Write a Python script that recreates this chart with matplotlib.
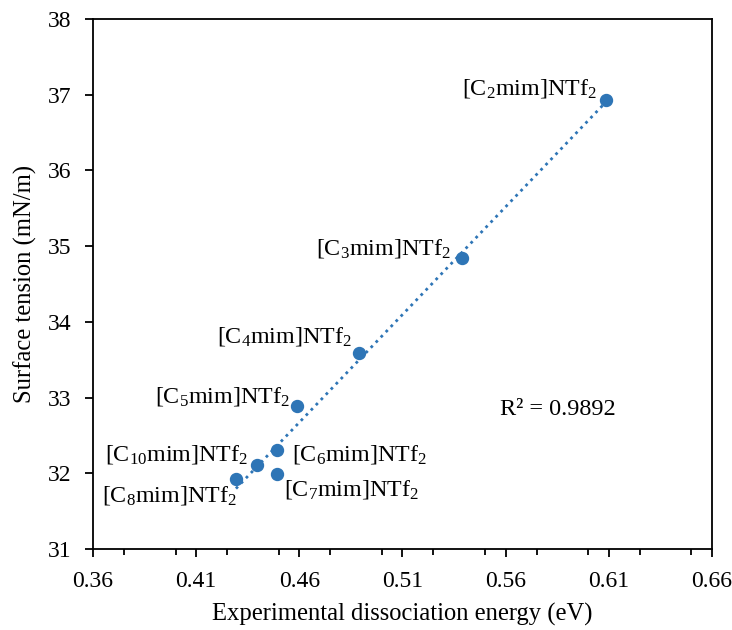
import matplotlib
matplotlib.use('Agg')
import matplotlib.pyplot as plt
import numpy as np
from matplotlib.ticker import MultipleLocator

plt.rcParams['font.family'] = ['Liberation Serif', 'DejaVu Serif']
plt.rcParams['mathtext.default'] = 'regular'

# dissociation energy (eV) vs surface tension (mN/m)
names = ['2', '3', '4', '5', '6', '7', '10', '8']
energy = [0.6087, 0.5389, 0.4890, 0.4589, 0.4492, 0.4492, 0.4395, 0.4293]
tension = [36.93, 34.84, 33.59, 32.89, 32.31, 31.99, 32.11, 31.92]
r2_text = 'R² = 0.9892'

# label offsets in pixels (dx, dy, ha)
offsets = {
    '2': (-9, 12, 'right'),
    '3': (-11, 10, 'right'),
    '4': (-7, 16, 'right'),
    '5': (-7, 9, 'right'),
    '6': (15, -5, 'left'),
    '7': (7, -15, 'left'),
    '10': (-9, 10, 'right'),
    '8': (1, -16, 'right'),
}

blue = '#2E75B6'

fig = plt.figure(figsize=(7.32, 6.3), dpi=100)
ax = fig.add_axes([0.127, 0.1286, 0.8457, 0.8412])

ax.plot(energy, tension, 'o', color=blue, markersize=8.6, zorder=3)

# linear trendline
k, b = np.polyfit(energy, tension, 1)
xs = np.array([min(energy), max(energy)])
ax.plot(xs, k * xs + b, linestyle=(0, (1, 1.6)), color=blue, linewidth=2, zorder=2)

for n, x, y in zip(names, energy, tension):
    dx, dy, ha = offsets[n]
    ax.annotate('[C$_{%s}$mim]NTf$_2$' % n, (x, y), xytext=(dx, dy),
                textcoords='offset pixels', ha=ha, va='center', fontsize=17.3)

ax.text(0.5573, 32.84, r2_text, ha='left', va='center', fontsize=17.5)

ax.set_xlim(0.36, 0.66)
ax.set_ylim(31, 38)
ax.set_xticks(np.arange(0.36, 0.661, 0.05))
ax.set_xticklabels(['%.2f' % v for v in np.arange(0.36, 0.661, 0.05)])
ax.xaxis.set_minor_locator(MultipleLocator(0.025))
ax.set_yticks(np.arange(31, 38.1, 1))

ax.tick_params(axis='both', which='major', direction='out', length=6, width=1.3, labelsize=17, pad=9.5)
ax.tick_params(axis='x', which='minor', direction='out', length=4, width=1.3)
for s in ax.spines.values():
    s.set_linewidth(1.3)

ax.set_xlabel('Experimental dissociation energy (eV)', fontsize=17.7, labelpad=8)
ax.set_ylabel('Surface tension (mN/m)', fontsize=17.7, labelpad=8)

plt.savefig('out.png', dpi=100)
